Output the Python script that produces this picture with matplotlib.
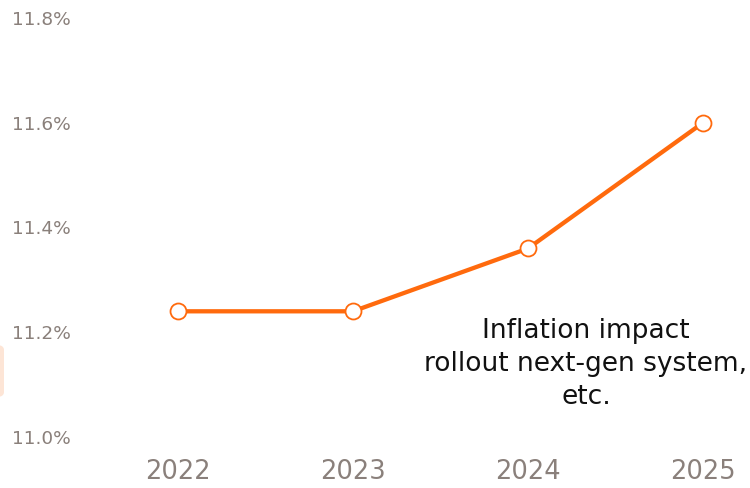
import matplotlib
matplotlib.use("Agg")
import matplotlib.pyplot as plt
from matplotlib.patches import FancyBboxPatch

years = [2022, 2023, 2024, 2025]
values = [11.24, 11.24, 11.36, 11.60]
y_ticks = [11.0, 11.2, 11.4, 11.6, 11.8]
y_tick_labels = ["11.0%", "11.2%", "11.4%", "11.6%", "11.8%"]
note = "Inflation impact\nrollout next-gen system,\netc."

W, H = 750, 488
fig = plt.figure(figsize=(7.5, 4.88), dpi=100)
ax = fig.add_axes([80 / W, (H - 450) / H, 670 / W, 450 / H])

px_per_year = 175.0
x0 = 2022 - (178 - 80) / px_per_year
x1 = 2022 + (750 - 178) / px_per_year
ppu = 523.75
y_bot = 11.0 - (450 - 437) / ppu
y_top = 11.8 + 18 / ppu
ax.set_xlim(x0, x1)
ax.set_ylim(y_bot, y_top)

orange = "#ff6a0d"
ax.plot(years, values, color=orange, lw=3.1, solid_capstyle="round", zorder=2)
ax.plot(years, values, linestyle="none", marker="o", markersize=11.5,
        markerfacecolor="white", markeredgecolor=orange, markeredgewidth=1.3, zorder=3)

gray = "#8a807b"
ax.set_yticks(y_ticks)
ax.set_yticklabels(y_tick_labels)
ax.set_xticks(years)
ax.set_xticklabels([str(y) for y in years])
ax.tick_params(axis="y", length=0, pad=6.5, labelsize=13.3, labelcolor=gray)
ax.tick_params(axis="x", length=0, pad=6.5, labelsize=18.5, labelcolor=gray)
for s in ax.spines.values():
    s.set_visible(False)
ax.patch.set_alpha(0)

ax.text((586 - 80) / 670, 1 - 364 / 450, note, transform=ax.transAxes,
        ha="center", va="center", fontsize=19, color="#111111", linespacing=1.36)

# partial rounded box at left edge
box = FancyBboxPatch((-20 / W, (H - 397) / H), 24 / W, 52 / H,
                     boxstyle="round,pad=0,rounding_size=0.01",
                     transform=fig.transFigure, facecolor="#fde5d6",
                     edgecolor="none", zorder=0)
fig.patches.append(box)

fig.savefig("out.png", dpi=100)
